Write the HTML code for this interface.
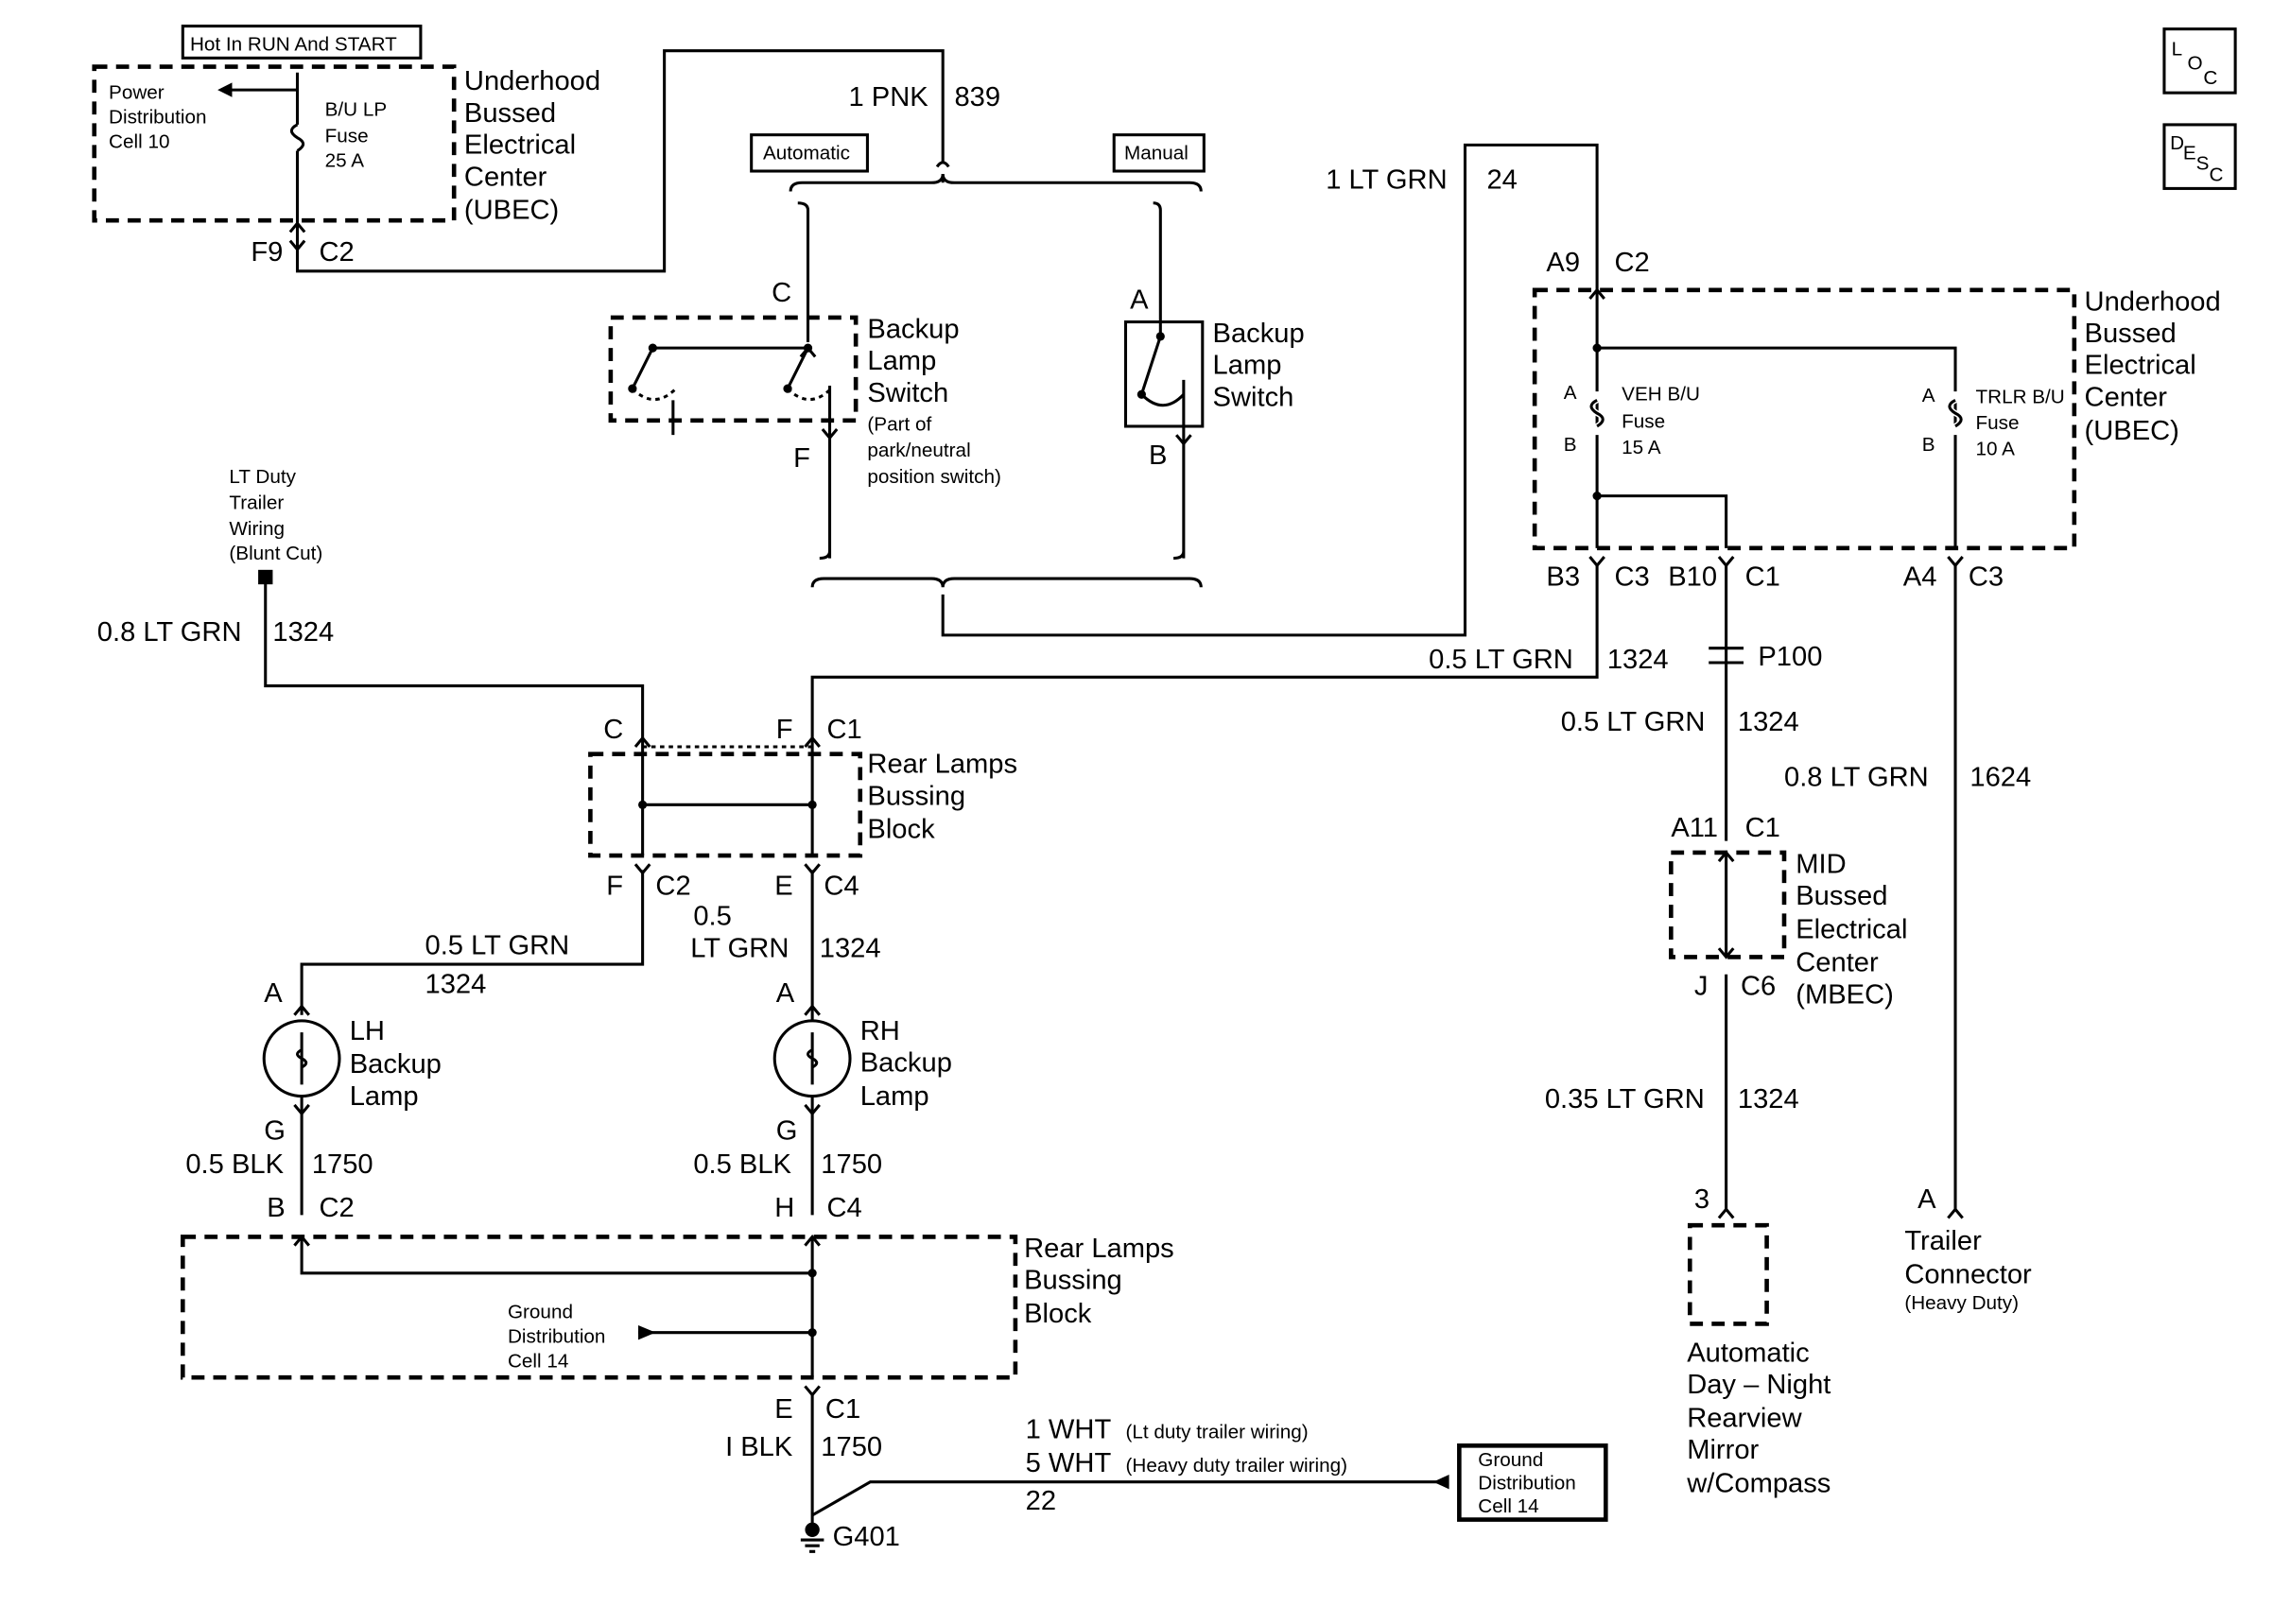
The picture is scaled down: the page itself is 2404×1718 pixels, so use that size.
<!DOCTYPE html>
<html><head><meta charset="utf-8"><style>
html,body{margin:0;padding:0;background:#fff;}
svg{display:block}
text{font-family:"Liberation Sans",Arial,sans-serif;fill:#000}
.b{font-size:19px}
.s{font-size:13.5px}
</style></head><body>
<svg width="2404" height="1718" viewBox="0 0 1567 1120" preserveAspectRatio="none" xmlns="http://www.w3.org/2000/svg">
<g fill="none" stroke="#000" stroke-width="2">
<rect x="126" y="18" width="164" height="22"/>
<rect x="65" y="46" width="248" height="106" stroke-dasharray="9,6" stroke-width="3"/>
<path d="M205 50 V86 M205 104 V187 H458 V35 H650 V112 M650 120 V126"/>
<path d="M205 86 q-8 4 0 9 q8 4 0 9"/>
<path d="M205 62 H158"/>
<path d="M646 115 q4 -6 8 0"/>
<rect x="518" y="93" width="80" height="25"/>
<rect x="768" y="93" width="62" height="25"/>
<path d="M545 132 q0 -6 8 -6 H642 q8 0 8 -6 q0 6 8 6 H820 q8 0 8 6"/>
<path d="M550 140 q7 0 7 5 V236 M795 140 q5 0 5 5 V232"/>
<rect x="421" y="219" width="169" height="71" stroke-dasharray="9,6" stroke-width="3"/>
<path d="M450 240 H557 M450 240 L436 268 M557 240 L543 268"/>
<path d="M436 268 q15 15 30 0 M543 268 q15 15 30 0" stroke-dasharray="3,3"/>
<path d="M464 276 V300 M572 266 V385 M565 385 q7 0 7 -5"/>
<rect x="776" y="222" width="53" height="72"/>
<path d="M800 232 L787 272 M787 272 q15 15 29 0" />
<path d="M816 262 V385 M809 385 q7 0 7 -5"/>
<path d="M560 405 q0 -6 8 -6 H642 q8 0 8 6 q0 -6 8 -6 H820 q8 0 8 6"/>
<path d="M650 410 V438 H1010 V100 H1101 V378"/>
<rect x="1058" y="200" width="372" height="178" stroke-dasharray="9,6" stroke-width="3"/>
<path d="M1101 240 H1348 V378 M1101 342 H1190 V378"/>
<path d="M1101 270 V276 q-8 4 0 9 q8 4 0 9 V300 M1348 270 V276 q-8 4 0 9 q8 4 0 9 V300" stroke="#fff" stroke-width="4"/>
<path d="M1101 276 q-8 4 0 9 q8 4 0 9 M1348 276 q-8 4 0 9 q8 4 0 9"/>
<path d="M1101 390 V467 H560 V520 M1190 390 V580 M1348 390 V835"/>
<path d="M1178 447 H1202 M1178 457 H1202"/>
<rect x="1152" y="588" width="78" height="72" stroke-dasharray="9,6" stroke-width="3"/>
<path d="M1190 588 V660 M1190 672 V835"/>
<rect x="1165" y="845" width="53" height="68" stroke-dasharray="9,6" stroke-width="3"/>
<path d="M183 400 V473 H443 V520"/>
<rect x="407" y="520" width="186" height="70" stroke-dasharray="9,6" stroke-width="3"/>
<path d="M443 515 H560" stroke-dasharray="3,3"/>
<path d="M443 520 V590 M560 520 V590 M443 555 H560"/>
<path d="M443 600 V665 H208 V700 M560 600 V704"/>
<circle cx="208" cy="730" r="26"/><circle cx="560" cy="730" r="26"/>
<path d="M208 712 V748 M560 712 V748"/>
<path d="M208 724 q-6 3 0 6 q6 3 0 6 M560 724 q-6 3 0 6 q6 3 0 6"/>
<path d="M208 756 V838 M560 756 V838"/>
<rect x="126" y="853" width="574" height="97" stroke-dasharray="9,6" stroke-width="3"/>
<path d="M208 853 V878 H560 M560 853 V950 M440 919 H560 M560 962 V1055"/>
<path d="M560 1045 L600 1022 H998"/>
<rect x="1006" y="997" width="101" height="51" stroke-width="3"/>
<rect x="1492" y="20" width="49" height="44"/>
<rect x="1492" y="86" width="49" height="44"/>
<path d="M552 1062 H568 M555 1066 H565 M558 1070 H562"/>
</g>
<g fill="none" stroke="#000" stroke-width="2">
<path d="M200 160 L205 154 L210 160 M200 166 L205 172 L210 166"/>
<path d="M1096 206 L1101 200 L1106 206 M1096 384 L1101 390 L1106 384 M1185 384 L1190 390 L1195 384 M1343 384 L1348 390 L1353 384"/>
<path d="M552 246 L557 240 L562 246 M567 296 L572 302 L577 296 M811 300 L816 306 L821 300"/>
<path d="M438 515 L443 509 L448 515 M555 515 L560 509 L565 515 M438 596 L443 602 L448 596 M555 596 L560 602 L565 596"/>
<path d="M203 700 L208 694 L213 700 M555 700 L560 694 L565 700 M203 762 L208 768 L213 762 M555 762 L560 768 L565 762"/>
<path d="M203 859 L208 853 L213 859 M555 859 L560 853 L565 859 M555 956 L560 962 L565 956"/>
<path d="M1185 594 L1190 588 L1195 594 M1185 654 L1190 660 L1195 654 M1185 840 L1190 834 L1195 840 M1343 840 L1348 834 L1353 840"/>
</g>
<g fill="#000">
<path d="M150 62 L160 57 L160 67 Z"/>
<path d="M452 919 L440 914 L440 924 Z"/>
<path d="M988 1022 L999 1017 L999 1027 Z"/>
<rect x="178" y="393" width="10" height="10"/>
<circle cx="560" cy="1055" r="5"/>
<circle cx="1101" cy="240" r="3"/><circle cx="1101" cy="342" r="3"/>
<circle cx="443" cy="555" r="3"/><circle cx="560" cy="555" r="3"/>
<circle cx="560" cy="878" r="3"/><circle cx="560" cy="919" r="3"/>
<circle cx="450" cy="240" r="3"/><circle cx="557" cy="240" r="3"/><circle cx="436" cy="268" r="3"/><circle cx="543" cy="268" r="3"/><circle cx="800" cy="232" r="3"/><circle cx="787" cy="272" r="3"/>
</g>
<g>
<text x="131" y="35" class="s">Hot In RUN And START</text>
<text x="75" y="68" class="s">Power</text><text x="75" y="85" class="s">Distribution</text><text x="75" y="102" class="s">Cell 10</text>
<text x="224" y="80" class="s">B/U LP</text><text x="224" y="98" class="s">Fuse</text><text x="224" y="115" class="s">25 A</text>
<text x="320" y="62" class="b">Underhood</text><text x="320" y="84" class="b">Bussed</text><text x="320" y="106" class="b">Electrical</text><text x="320" y="128" class="b">Center</text><text x="320" y="151" class="b">(UBEC)</text>
<text x="173" y="180" class="b">F9</text><text x="220" y="180" class="b">C2</text>
<text x="585" y="73" class="b">1 PNK</text><text x="658" y="73" class="b">839</text>
<text x="526" y="110" class="s">Automatic</text><text x="775" y="110" class="s">Manual</text>
<text x="532" y="208" class="b">C</text><text x="547" y="322" class="b">F</text>
<text x="598" y="233" class="b">Backup</text><text x="598" y="255" class="b">Lamp</text><text x="598" y="277" class="b">Switch</text>
<text x="598" y="297" class="s">(Part of</text><text x="598" y="315" class="s">park/neutral</text><text x="598" y="333" class="s">position switch)</text>
<text x="779" y="213" class="b">A</text><text x="792" y="320" class="b">B</text>
<text x="836" y="236" class="b">Backup</text><text x="836" y="258" class="b">Lamp</text><text x="836" y="280" class="b">Switch</text>
<text x="914" y="130" class="b">1 LT GRN</text><text x="1025" y="130" class="b">24</text>
<text x="1066" y="187" class="b">A9</text><text x="1113" y="187" class="b">C2</text>
<text x="1078" y="275" class="s">A</text><text x="1078" y="311" class="s">B</text>
<text x="1118" y="276" class="s">VEH B/U</text><text x="1118" y="295" class="s">Fuse</text><text x="1118" y="313" class="s">15 A</text>
<text x="1325" y="277" class="s">A</text><text x="1325" y="311" class="s">B</text>
<text x="1362" y="278" class="s">TRLR B/U</text><text x="1362" y="296" class="s">Fuse</text><text x="1362" y="314" class="s">10 A</text>
<text x="1437" y="214" class="b">Underhood</text><text x="1437" y="236" class="b">Bussed</text><text x="1437" y="258" class="b">Electrical</text><text x="1437" y="280" class="b">Center</text><text x="1437" y="303" class="b">(UBEC)</text>
<text x="1066" y="404" class="b">B3</text><text x="1113" y="404" class="b">C3</text><text x="1150" y="404" class="b">B10</text><text x="1203" y="404" class="b">C1</text><text x="1312" y="404" class="b">A4</text><text x="1357" y="404" class="b">C3</text>
<text x="985" y="461" class="b">0.5 LT GRN</text><text x="1108" y="461" class="b">1324</text>
<text x="1212" y="459" class="b">P100</text>
<text x="1076" y="504" class="b">0.5 LT GRN</text><text x="1198" y="504" class="b">1324</text>
<text x="1230" y="542" class="b">0.8 LT GRN</text><text x="1358" y="542" class="b">1624</text>
<text x="1152" y="577" class="b">A11</text><text x="1203" y="577" class="b">C1</text>
<text x="1238" y="602" class="b">MID</text><text x="1238" y="624" class="b">Bussed</text><text x="1238" y="647" class="b">Electrical</text><text x="1238" y="670" class="b">Center</text><text x="1238" y="692" class="b">(MBEC)</text>
<text x="1168" y="686" class="b">J</text><text x="1200" y="686" class="b">C6</text>
<text x="1065" y="764" class="b">0.35 LT GRN</text><text x="1198" y="764" class="b">1324</text>
<text x="1168" y="833" class="b">3</text><text x="1322" y="833" class="b">A</text>
<text x="1163" y="939" class="b">Automatic</text><text x="1163" y="961" class="b">Day – Night</text><text x="1163" y="984" class="b">Rearview</text><text x="1163" y="1006" class="b">Mirror</text><text x="1163" y="1029" class="b">w/Compass</text>
<text x="1313" y="862" class="b">Trailer</text><text x="1313" y="885" class="b">Connector</text><text x="1313" y="903" class="s">(Heavy Duty)</text>
<text x="158" y="333" class="s">LT Duty</text><text x="158" y="351" class="s">Trailer</text><text x="158" y="369" class="s">Wiring</text><text x="158" y="386" class="s">(Blunt Cut)</text>
<text x="67" y="442" class="b">0.8 LT GRN</text><text x="188" y="442" class="b">1324</text>
<text x="416" y="509" class="b">C</text><text x="535" y="509" class="b">F</text><text x="570" y="509" class="b">C1</text>
<text x="598" y="533" class="b">Rear Lamps</text><text x="598" y="555" class="b">Bussing</text><text x="598" y="578" class="b">Block</text>
<text x="418" y="617" class="b">F</text><text x="452" y="617" class="b">C2</text><text x="534" y="617" class="b">E</text><text x="568" y="617" class="b">C4</text>
<text x="478" y="638" class="b">0.5</text><text x="476" y="660" class="b">LT GRN</text><text x="565" y="660" class="b">1324</text>
<text x="293" y="658" class="b">0.5 LT GRN</text><text x="293" y="685" class="b">1324</text>
<text x="182" y="691" class="b">A</text><text x="535" y="691" class="b">A</text>
<text x="241" y="717" class="b">LH</text><text x="241" y="740" class="b">Backup</text><text x="241" y="762" class="b">Lamp</text>
<text x="593" y="717" class="b">RH</text><text x="593" y="739" class="b">Backup</text><text x="593" y="762" class="b">Lamp</text>
<text x="182" y="786" class="b">G</text><text x="535" y="786" class="b">G</text>
<text x="128" y="809" class="b">0.5 BLK</text><text x="215" y="809" class="b">1750</text><text x="478" y="809" class="b">0.5 BLK</text><text x="566" y="809" class="b">1750</text>
<text x="184" y="839" class="b">B</text><text x="220" y="839" class="b">C2</text><text x="534" y="839" class="b">H</text><text x="570" y="839" class="b">C4</text>
<text x="350" y="909" class="s">Ground</text><text x="350" y="926" class="s">Distribution</text><text x="350" y="943" class="s">Cell 14</text>
<text x="706" y="867" class="b">Rear Lamps</text><text x="706" y="889" class="b">Bussing</text><text x="706" y="912" class="b">Block</text>
<text x="534" y="978" class="b">E</text><text x="569" y="978" class="b">C1</text>
<text x="500" y="1004" class="b">I BLK</text><text x="566" y="1004" class="b">1750</text>
<text x="574" y="1066" class="b">G401</text>
<text x="707" y="992" class="b">1 WHT</text><text x="776" y="992" class="s">(Lt duty trailer wiring)</text>
<text x="707" y="1015" class="b">5 WHT</text><text x="776" y="1015" class="s">(Heavy duty trailer wiring)</text>
<text x="707" y="1041" class="b">22</text>
<text x="1019" y="1011" class="s">Ground</text><text x="1019" y="1027" class="s">Distribution</text><text x="1019" y="1043" class="s">Cell 14</text>
<text x="1497" y="38" class="s">L</text><text x="1508" y="48" class="s">O</text><text x="1519" y="58" class="s">C</text>
<text x="1496" y="103" class="s">D</text><text x="1505" y="110" class="s">E</text><text x="1514" y="117" class="s">S</text><text x="1523" y="125" class="s">C</text>
</g>
</svg>
</body></html>
